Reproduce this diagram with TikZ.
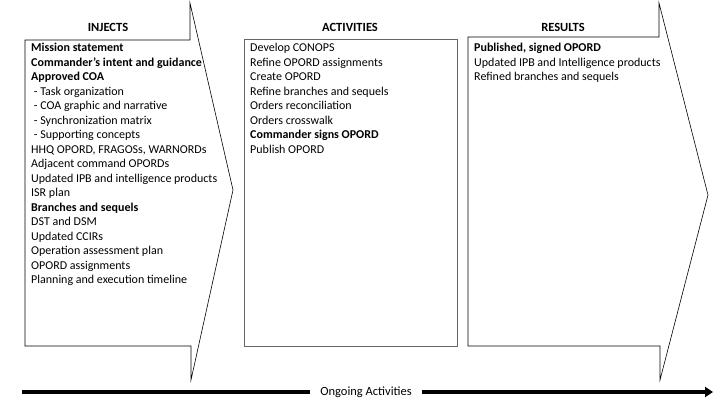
\documentclass[tikz,border=0pt]{standalone}
\usepackage{fontspec}
\setmainfont{Carlito}
\usetikzlibrary{arrows.meta}
\begin{document}
\begin{tikzpicture}[x=1pt,y=-1pt,
  hdr/.style={font=\bfseries\fontsize{12.5}{14}\selectfont, anchor=center},
  lst/.style={anchor=north west, align=left, inner sep=0pt, font=\fontsize{12}{14.5}\selectfont},
  outl/.style={draw=black, line width=0.6pt},
  gbox/.style={draw=black!60, line width=1pt},
  bar/.style={line width=3.5pt}]
\useasboundingbox (0,0) rectangle (720,405);
\draw[outl] (25,40) -- (190,40) -- (190,3) -- (233,190) -- (191,380) -- (191,346) -- (25,346) -- cycle;
\draw[gbox] (244,39) rectangle (457,346);
\draw[outl] (468,37) -- (659,37) -- (659,3) -- (708,195) -- (660,380) -- (660,346) -- (468,346) -- cycle;
\node[hdr] (h1) at (108,27) {INJECTS};
\node[hdr] (h2) at (350,27) {ACTIVITIES};
\node[hdr] (h3) at (563,27) {RESULTS};
\node[lst] (t1) at (31,43) {\textbf{Mission statement}\\
\textbf{Commander’s intent and guidance}\\
\textbf{Approved COA}\\
\ - Task organization\\
\ - COA graphic and narrative\\
\ - Synchronization matrix\\
\ - Supporting concepts\\
HHQ OPORD, FRAGOSs, WARNORDs\\
Adjacent command OPORDs\\
Updated IPB and intelligence products\\
ISR plan\\
\textbf{Branches and sequels}\\
DST and DSM\\
Updated CCIRs\\
Operation assessment plan\\
OPORD assignments\\
Planning and execution timeline};
\node[lst] (t2) at (250,43) {Develop CONOPS\\
Refine OPORD assignments\\
Create OPORD\\
Refine branches and sequels\\
Orders reconciliation\\
Orders crosswalk\\
\textbf{Commander signs OPORD}\\
Publish OPORD};
\node[lst] (t3) at (474,43) {\textbf{Published, signed OPORD}\\
Updated IPB and Intelligence products\\
Refined branches and sequels};
\node[font=\fontsize{12.5}{14}\selectfont, inner xsep=10pt] (og) at (366,392) {Ongoing Activities};
\coordinate (l0) at (22,392);
\coordinate (l1) at (713,392);
\draw[bar] (l0) -- (og.west);
\draw[bar, -{Triangle[length=8pt,width=10pt]}] (og.east) -- (l1);
\end{tikzpicture}
\end{document}
